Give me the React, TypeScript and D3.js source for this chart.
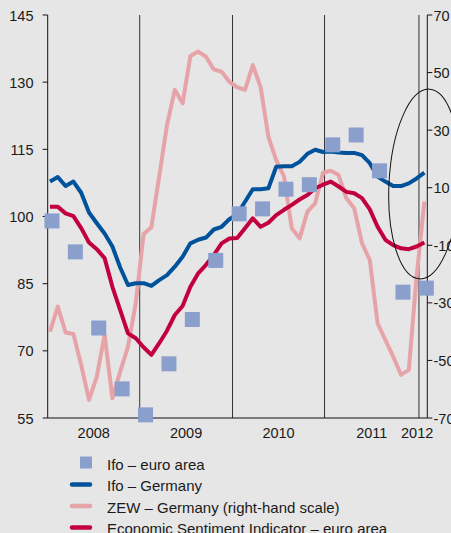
import React from "react";
import * as d3 from "d3";

// ---- Data (monthly, 49 points) ----
const ifoGermany = [
  107.8, 108.8, 106.8, 107.8, 105.3, 100.9, 98.5, 96.2, 93.3, 88.6, 84.7, 85.1,
  85.1, 84.5, 85.8, 86.9, 88.8, 91.0, 94.0, 94.8, 95.3, 97.1, 97.7, 99.4,
  100.5, 103.3, 106.1, 106.1, 106.3, 111.1, 111.2, 111.2, 112.2, 114.0, 114.9, 114.4,
  114.5, 114.3, 114.2, 114.2, 113.7, 111.9, 108.9, 107.8, 106.8, 106.8, 107.4, 108.5, 109.8,
];
const esiEuro = [
  102.2, 102.2, 100.7, 100.1, 97.4, 94.2, 92.7, 90.7, 84.3, 79.1, 73.9, 72.8,
  70.8, 69.1, 71.7, 74.5, 78.0, 80.0, 84.3, 87.3, 89.2, 91.4, 94.0, 95.1,
  95.2, 97.4, 99.6, 97.7, 98.6, 100.3, 101.5, 102.6, 103.8, 104.8, 106.3, 107.1,
  107.8, 106.7, 105.5, 105.2, 104.1, 101.6, 97.7, 94.8, 93.6, 92.9, 92.7, 93.3, 94.2,
];
const zewGermany = [
  -40.0, -31.3, -40.3, -40.8, -51.6, -63.7, -55.6, -41.1, -63.1, -53.9, -45.2, -30.1,
  -6.1, -3.7, 13.9, 31.8, 44.0, 39.3, 55.8, 57.3, 55.5, 51.1, 50.3, 46.8,
  44.9, 44.0, 52.6, 45.0, 27.7, 19.6, 13.9, -4.1, -7.6, 1.7, 4.6, 15.2,
  15.9, 14.4, 6.3, 2.9, -9.3, -15.1, -37.1, -42.9, -48.7, -55.0, -53.3, -20.9, 5.2,
];
// quarterly, every third month
const ifoEuroArea = [99.0, 92.1, 75.1, 61.5, 55.7, 67.1, 77.0, 90.2, 100.6, 101.7, 106.1, 107.1, 116.0, 118.2, 110.2, 83.1, 84.0];

const years = ["2008", "2009", "2010", "2011", "2012"];
const yearBreaks = [11.5, 23.4, 35.2, 47.3]; // month-index positions of the year separators
const leftTicks = [55, 70, 85, 100, 115, 130, 145];
const rightTicks = [-70, -50, -30, -10, 10, 30, 50, 70];

const legendItems = [
  { label: "Ifo – euro area", kind: "square" },
  { label: "Ifo – Germany", kind: "blue" },
  { label: "ZEW – Germany (right-hand scale)", kind: "pink" },
  { label: "Economic Sentiment Indicator – euro area", kind: "red" },
];

const COLORS: Record<string, string> = {
  square: "#8b9fcc",
  blue: "#00529b",
  pink: "#e6a3a8",
  red: "#c3003f",
};

export default function App() {
  const W = 451;
  const H = 533;
  const left = 47.7;
  const right = 427.3;
  const top = 15;
  const bottom = 418;
  const font = "'Liberation Sans', Arial, sans-serif";

  const x = d3.scaleLinear().domain([0, 48]).range([50, 424.4]);
  const yL = d3.scaleLinear().domain([55, 145]).range([bottom, top]);
  const yR = d3.scaleLinear().domain([-70, 70]).range([bottom, top]);

  const lineL = d3
    .line<number>()
    .x((_, i) => x(i))
    .y((d) => yL(d));
  const lineR = d3
    .line<number>()
    .x((_, i) => x(i))
    .y((d) => yR(d));

  const bounds = [left, ...yearBreaks.map((b) => x(b)), right];
  const sq = 15;
  const quarterShift = 0.25;

  const legendTop = 469.5;
  const legendStep = 21.5;

  return (
    <svg
      width={W}
      height={H}
      style={{ position: "absolute", left: 0, top: 0, display: "block" }}
      fontFamily={font}
    >
      <rect x={0} y={0} width={W} height={H} fill="#e6e6e6" />

      {/* year separators */}
      {yearBreaks.map((b, i) => (
        <line key={i} x1={x(b)} x2={x(b)} y1={top} y2={bottom} stroke="#333" strokeWidth={1} />
      ))}

      {/* axes */}
      <line x1={left} x2={left} y1={top} y2={bottom} stroke="#111" strokeWidth={1} />
      <line x1={right} x2={right} y1={top} y2={bottom} stroke="#111" strokeWidth={1} />
      <line x1={left} x2={right} y1={bottom} y2={bottom} stroke="#111" strokeWidth={1} />

      {leftTicks.map((t) => (
        <g key={"l" + t}>
          <line x1={left - 5} x2={left} y1={yL(t)} y2={yL(t)} stroke="#111" />
          <text x={33.5} y={yL(t) + 5.5} textAnchor="end" fontSize={14.5} fill="#1a1a1a">
            {t}
          </text>
        </g>
      ))}
      {rightTicks.map((t) => (
        <g key={"r" + t}>
          <line x1={right} x2={right + 5} y1={yR(t)} y2={yR(t)} stroke="#111" />
          <text x={433.5} y={yR(t) + 5.5} textAnchor="start" fontSize={14.5} fill="#1a1a1a">
            {t < 0 ? "-" + Math.abs(t) : String(t)}
          </text>
        </g>
      ))}

      {years.map((yr, i) => {
        const last = i === years.length - 1;
        const cx = (bounds[i] + bounds[i + 1]) / 2;
        return (
          <text
            key={yr}
            x={last ? right + 6 : cx}
            y={438}
            textAnchor={last ? "end" : "middle"}
            fontSize={14.5}
            fill="#1a1a1a"
          >
            {yr}
          </text>
        );
      })}

      {/* series */}
      <path d={lineR(zewGermany) || ""} fill="none" stroke={COLORS.pink} strokeWidth={4} strokeLinejoin="round" />
      <path d={lineL(esiEuro) || ""} fill="none" stroke={COLORS.red} strokeWidth={4} strokeLinejoin="round" />
      <path d={lineL(ifoGermany) || ""} fill="none" stroke={COLORS.blue} strokeWidth={4} strokeLinejoin="round" />

      {ifoEuroArea.map((v, k) => (
        <rect
          key={k}
          x={x(k * 3 + quarterShift) - sq / 2}
          y={yL(v) - sq / 2}
          width={sq}
          height={sq}
          fill={COLORS.square}
        />
      ))}

      {/* highlight ellipse */}
      <ellipse
        cx={424.5}
        cy={184}
        rx={35.5}
        ry={95}
        fill="none"
        stroke="#111"
        strokeWidth={1}
        transform="rotate(3 424.5 184)"
      />

      {/* legend */}
      {legendItems.map((it, i) => {
        const by = legendTop + i * legendStep;
        return (
          <g key={it.label}>
            {it.kind === "square" ? (
              <rect x={80} y={by - 13} width={12} height={12} fill={COLORS.square} />
            ) : (
              <line
                x1={72}
                x2={90}
                y1={by - 6.5}
                y2={by - 6.5}
                stroke={COLORS[it.kind]}
                strokeWidth={4.5}
                strokeLinecap="round"
              />
            )}
            <text x={107} y={by} fontSize={15} fill="#1a1a1a">
              {it.label}
            </text>
          </g>
        );
      })}
    </svg>
  );
}
